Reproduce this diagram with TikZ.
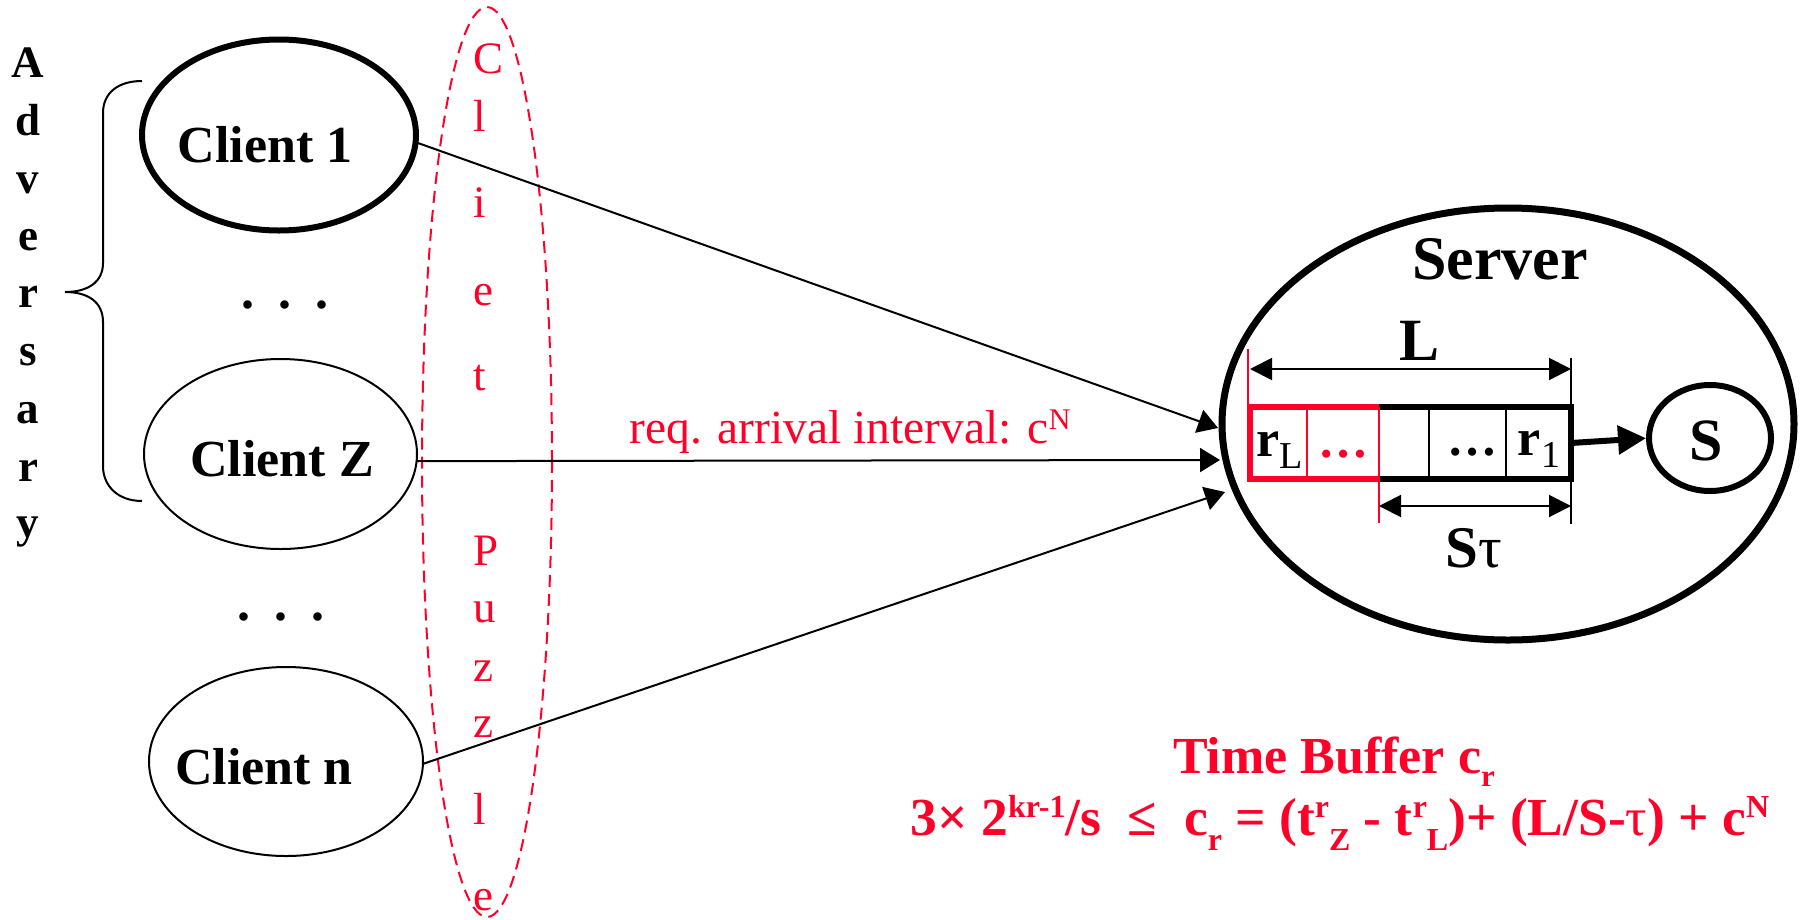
\documentclass[tikz,border=0pt]{standalone}
\usepackage{fontspec}
\setmainfont{Liberation Serif}
\usetikzlibrary{arrows.meta,shapes.geometric}
\definecolor{pred}{RGB}{255,0,40}
\newcommand\shiftbox[3]{\raisebox{#1}{\fontsize{#2}{#2}\selectfont #3}}
\begin{document}
\begin{tikzpicture}[x=1pt,y=-1pt,
  every node/.style={inner sep=0pt, outer sep=0pt},
  ell/.style={ellipse, draw, inner sep=0pt},
  ctext/.style={anchor=base, font=\fontsize{52}{60}\selectfont\bfseries},
  advl/.style={anchor=base, font=\fontsize{45}{50}\selectfont\bfseries},
  puzl/.style={anchor=base west, text=pred, font=\fontsize{45}{50}\selectfont},
  conn/.style={line width=2pt, -{Triangle[length=20pt,width=24pt]}},
  dimline/.style={line width=2pt, {Triangle[length=22pt,width=22pt]}-{Triangle[length=22pt,width=22pt]}},
  thinline/.style={line width=2pt},
]
\path[use as bounding box] (0,0) rectangle (1804,919);

% Adversary letters
\foreach \l/\yy [count=\i] in {A/77,d/135,v/193,e/250,r/307,s/365,a/423,r/481,y/537}
  \node[advl] (adv\i) at (28,\yy) {\l};

% brace
\draw[thinline] (142,81) .. controls (118,81) and (103,93) .. (103,113) -- (103,263)
  .. controls (103,282) and (88,292) .. (65,292)
  .. controls (88,292) and (103,302) .. (103,322) -- (103,466)
  .. controls (103,486) and (118,501) .. (142,501);

% clients
\node[ell, line width=6pt, minimum width=274pt, minimum height=191pt] (c1) at (279,135) {};
\node[ctext] (c1t) at (265,162) {Client 1};
\node[ell, line width=2pt, minimum width=273pt, minimum height=190pt] (cZ) at (280.5,454) {};
\node[ctext] (cZt) at (282,476) {Client Z};
\node[ell, line width=2pt, minimum width=274pt, minimum height=189pt] (cn) at (286,761.5) {};
\node[ctext] (cnt) at (264,784) {Client n};
\node[ctext] (dots1) at (285,308) {.\hspace{24pt}.\hspace{24pt}.};
\node[ctext] (dots2) at (281,620) {.\hspace{24pt}.\hspace{24pt}.};

% client puzzle
\node[ell, draw=pred, line width=2pt, dash pattern=on 12pt off 7pt, minimum width=130pt, minimum height=910pt] (puz) at (487,462) {};
\foreach \l/\yy [count=\i] in {C/73,l/131,i/217,e/305,t/390,P/565,u/622,z/681,z/737,l/824,e/910}
  \node[puzl] (pz\i) at (473,\yy) {\l};

% server
\node[ell, line width=7pt, minimum width=572pt, minimum height=432pt] (srv) at (1508,424) {};
\node[anchor=base, font=\fontsize{62}{70}\selectfont\bfseries] (srvt) at (1500,279) {Server};

% buffer
\node[draw, line width=6pt, minimum width=321pt, minimum height=72pt] (buf) at (1410.5,443) {};
\draw[pred, line width=6pt] (1379,407) -- (1250,407) -- (1250,479) -- (1379,479);
\draw[pred, thinline] (1307,407) -- (1307,479);
\draw[pred, thinline] (1379,407) -- (1379,523);
\draw[pred, thinline] (1248,349) -- (1248,407);
\draw[thinline] (1429,407) -- (1429,479);
\draw[thinline] (1506,407) -- (1506,479);
\draw[thinline] (1571,358) -- (1571,524);

\node[anchor=base, font=\fontsize{52}{56}\selectfont\bfseries] (rL) at (1280,456) {r\shiftbox{-12pt}{38pt}{\mdseries L}};
\node[anchor=base, text=pred, font=\fontsize{50}{56}\selectfont\bfseries] (rdots) at (1343,457) {…};
\node[anchor=base, font=\fontsize{50}{56}\selectfont\bfseries] (bdots) at (1472,455) {…};
\node[anchor=base, font=\fontsize{52}{56}\selectfont\bfseries] (r1) at (1539,455) {r\shiftbox{-12pt}{38pt}{\mdseries 1}};

% dimensions
\coordinate (Ll) at (1250,369);
\coordinate (Lr) at (1571,369);
\draw[dimline] (Ll) -- (Lr);
\node[anchor=base, font=\fontsize{60}{66}\selectfont\bfseries] (Lt) at (1419,360) {L};
\coordinate (Sl) at (1379,506);
\coordinate (Sr) at (1571,506);
\draw[dimline] (Sl) -- (Sr);
\node[anchor=base, font=\fontsize{59}{64}\selectfont\bfseries] (Stau) at (1474,567) {S{\mdseries τ}};

% S
\node[ell, line width=6pt, minimum width=122pt, minimum height=106pt] (S) at (1710,438) {};
\node[anchor=base, font=\fontsize{60}{66}\selectfont\bfseries] (St) at (1706,460) {S};
\draw[line width=6pt, -{Triangle[length=28pt,width=28pt]}, shorten >=3pt] (buf.east) -- (S.west);

% connectors
\coordinate (t1) at (1218,428);
\coordinate (t2) at (1220,460);
\coordinate (t3) at (1225,492);
\draw[conn] (c1.-3) -- (t1);
\draw[conn] (cZ.-3.3) -- (t2);
\draw[conn] (cn.-1) -- (t3);
\node[anchor=base, text=pred, font=\fontsize{47.5}{50}\selectfont] (req) at (850,443) {req. arrival interval: c\shiftbox{14pt}{30pt}{N}};

% formula
\node[anchor=base, text=pred, font=\fontsize{52}{56}\selectfont\bfseries] (tb1) at (1334,773) {Time Buffer c\shiftbox{-13pt}{31pt}{r}};
\node[anchor=base, text=pred, font=\fontsize{53.5}{58}\selectfont\bfseries] (tb2) at (1340,835)
 {3× 2\shiftbox{18pt}{32pt}{kr-1}/s \ ≤ \ c\shiftbox{-15pt}{32pt}{r} = (t\shiftbox{18pt}{32pt}{r}\shiftbox{-15pt}{32pt}{Z} - t\shiftbox{18pt}{32pt}{r}\shiftbox{-15pt}{32pt}{L})+ (L/S-{\mdseries τ}) + c\shiftbox{18pt}{32pt}{N}};
\end{tikzpicture}
\end{document}
